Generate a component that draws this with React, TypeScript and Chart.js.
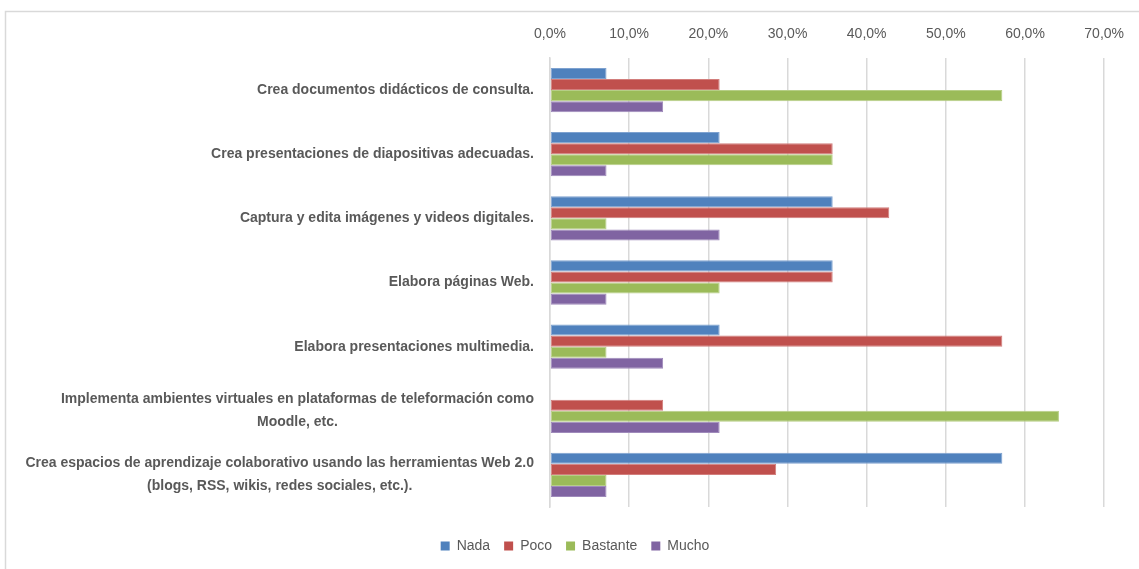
import React, { useEffect, useRef } from "react";
import { Chart, registerables } from "chart.js";

Chart.register(...registerables);

const categories: (string | string[])[] = [
  "Crea documentos didácticos de consulta.",
  "Crea presentaciones de diapositivas adecuadas.",
  "Captura y edita imágenes y videos digitales.",
  "Elabora páginas Web.",
  "Elabora presentaciones multimedia.",
  ["Implementa ambientes virtuales en plataformas de teleformación como", "Moodle, etc."],
  ["Crea espacios de aprendizaje colaborativo usando las herramientas Web 2.0", "(blogs, RSS, wikis, redes sociales, etc.)."],
];

const seriesNames = ["Nada", "Poco", "Bastante", "Mucho"];
const nada = [7.14, 21.43, 35.71, 35.71, 21.43, 0, 57.14];
const poco = [21.43, 35.71, 42.86, 35.71, 57.14, 14.29, 28.57];
const bastante = [57.14, 35.71, 7.14, 21.43, 7.14, 64.29, 7.14];
const mucho = [14.29, 7.14, 21.43, 7.14, 14.29, 21.43, 7.14];
const xTicks = [0, 10, 20, 30, 40, 50, 60, 70];

const fills = ["#4F81BD", "#C0504D", "#9BBB59", "#8064A2"];
const edges = ["#7EA2D0", "#D27E7C", "#B6CE86", "#9F8ABB"];
const FONT = "'Liberation Sans', Arial, sans-serif";
const TEXT = "#595959";

export default function App() {
  const ref = useRef<HTMLCanvasElement | null>(null);

  useEffect(() => {
    document.body.style.margin = "0";
    const canvas = ref.current;
    if (!canvas) return;

    const framePlugin = {
      id: "frame",
      beforeDraw(chart: any) {
        const c = chart.ctx;
        c.save();
        c.fillStyle = "#ffffff";
        c.fillRect(0, 0, chart.width, chart.height);
        c.strokeStyle = "#d9d9d9";
        c.lineWidth = 1.5;
        c.strokeRect(5.5, 11.5, 1300, 700);
        c.restore();
      },
    };

    const yLabelPlugin = {
      id: "yLabels",
      afterDraw(chart: any) {
        const c = chart.ctx;
        const ys = chart.scales.y;
        const right = chart.chartArea.left - 16;
        const lh = 23;
        c.save();
        c.font = `bold 14px ${FONT}`;
        c.fillStyle = TEXT;
        c.textAlign = "center";
        c.textBaseline = "middle";
        categories.forEach((lab, i) => {
          const lines = Array.isArray(lab) ? lab : [lab];
          const w = Math.max(...lines.map((l) => c.measureText(l).width));
          const cx = right - w / 2;
          const cy = ys.getPixelForValue(i);
          lines.forEach((l, j) => {
            c.fillText(l, cx, cy + (j - (lines.length - 1) / 2) * lh);
          });
        });
        c.restore();
      },
    };

    const data = [nada, poco, bastante, mucho];
    const chart = new Chart(canvas, {
      type: "bar",
      data: {
        labels: categories as any,
        datasets: seriesNames.map((name, k) => ({
          label: name,
          data: data[k],
          backgroundColor: fills[k],
          borderColor: edges[k],
          borderWidth: (ctx: any) => (ctx.raw === 0 ? 0 : 1),
          borderSkipped: false,
          categoryPercentage: 0.69,
          barPercentage: 1,
        })),
      },
      options: {
        indexAxis: "y",
        animation: false,
        responsive: false,
        layout: { padding: { left: 45, right: 34, top: 0, bottom: 6 } },
        scales: {
          x: {
            position: "top",
            min: 0,
            max: 70,
            afterBuildTicks: (scale: any) => {
              scale.ticks = xTicks.map((v) => ({ value: v }));
            },
            afterFit: (scale: any) => {
              scale.height = 58;
            },
            ticks: {
              padding: 15,
              color: TEXT,
              font: { family: FONT, size: 14 },
              callback: (v: any) => Number(v).toFixed(1).replace(".", ",") + "%",
            },
            grid: { color: "#d9d9d9", lineWidth: 1.5, drawTicks: false },
            border: { display: false },
          },
          y: {
            afterFit: (scale: any) => {
              scale.width = 505;
            },
            ticks: { display: false },
            grid: { display: false, drawTicks: false },
            border: { display: true, color: "#d9d9d9", width: 1.5 },
          },
        },
        plugins: {
          tooltip: { enabled: false },
          legend: {
            position: "bottom",
            title: {
              display: true,
              text: "",
              font: { size: 1, lineHeight: 1 },
              padding: { top: 17, bottom: 0 },
            },
            labels: {
              boxWidth: 9,
              boxHeight: 9,
              padding: 14,
              color: TEXT,
              font: { family: FONT, size: 14 },
              generateLabels: (ch: any) =>
                ch.data.datasets.map((ds: any, i: number) => ({
                  text: ds.label,
                  fillStyle: fills[i],
                  strokeStyle: fills[i],
                  lineWidth: 0,
                  hidden: false,
                  datasetIndex: i,
                  fontColor: TEXT,
                })),
            },
          },
        },
      } as any,
      plugins: [framePlugin, yLabelPlugin],
    });

    return () => chart.destroy();
  }, []);

  return (
    <div style={{ width: 1139, height: 569, position: "relative" }}>
      <canvas ref={ref} width={1139} height={569} style={{ display: "block" }} />
    </div>
  );
}
